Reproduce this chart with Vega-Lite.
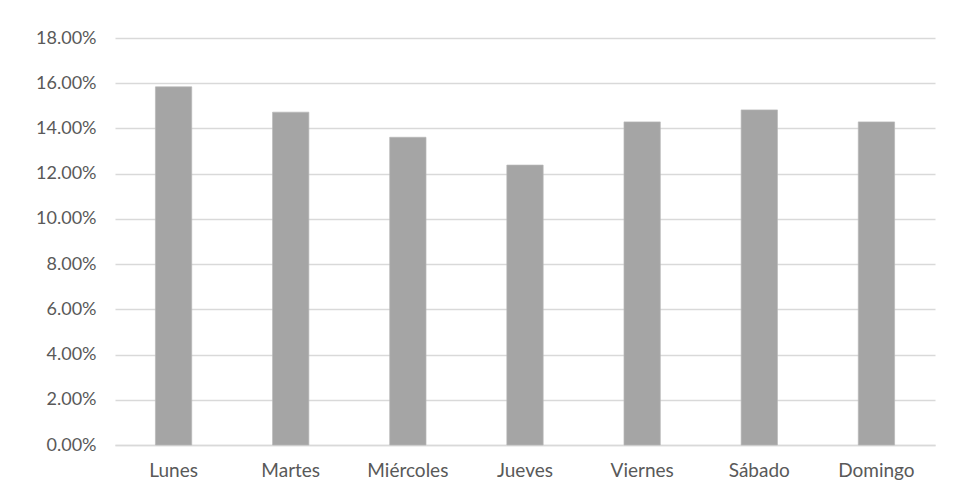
{
  "$schema": "https://vega.github.io/schema/vega-lite/v6.json",
  "width": 820,
  "height": 407,
  "autosize": {"type": "none"},
  "padding": {"left": 115, "top": 38, "right": 24, "bottom": 50},
  "background": "white",
  "data": {"values": [
    {"dia": "Lunes", "pct": 0.1584},
    {"dia": "Martes", "pct": 0.1472},
    {"dia": "Miércoles", "pct": 0.1361},
    {"dia": "Jueves", "pct": 0.1238},
    {"dia": "Viernes", "pct": 0.1429},
    {"dia": "Sábado", "pct": 0.1482},
    {"dia": "Domingo", "pct": 0.1429}
  ]},
  "mark": {"type": "bar", "color": "#a5a5a5", "stroke": "#b8b8b8", "strokeWidth": 0.7},
  "encoding": {
    "x": {
      "field": "dia", "type": "nominal", "sort": null, "title": null,
      "scale": {"paddingInner": 0.69, "paddingOuter": 0.345},
      "axis": {"labelAngle": 0, "ticks": false, "domainColor": "#d9d9d9", "domainWidth": 1.3, "labelPadding": 16, "labelFontSize": 19, "labelColor": "#595959", "labelFont": "Lato"}
    },
    "y": {
      "field": "pct", "type": "quantitative", "title": null,
      "scale": {"domain": [0, 0.18]},
      "axis": {"values": [0, 0.02, 0.04, 0.06, 0.08, 0.1, 0.12, 0.14, 0.16, 0.18], "format": ".2%", "ticks": false, "domain": false, "gridColor": "#d9d9d9", "gridWidth": 1.3, "labelPadding": 19, "labelFontSize": 18, "labelColor": "#595959", "labelFont": "Lato"}
    }
  },
  "config": {"view": {"stroke": null}}
}
